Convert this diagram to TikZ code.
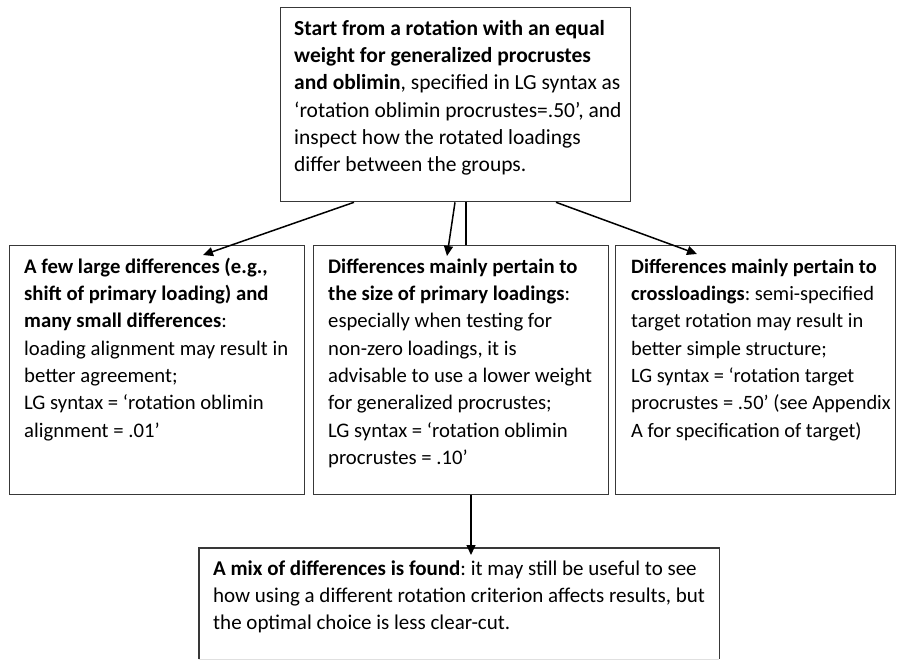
\documentclass[tikz,border=0pt]{standalone}
\usepackage{fontspec}
\setmainfont{Carlito}
\usetikzlibrary{arrows.meta}
\begin{document}
\begin{tikzpicture}[x=1pt,y=-1pt,
  boxstyle/.style={draw=black!78,line width=1.3pt,rectangle,anchor=north west,inner sep=0pt},
  txtstyle/.style={anchor=north west,inner sep=0pt,align=flush left,text width=#1,
    font=\fontsize{20.7}{27.3}\selectfont\frenchspacing},
  arrowstyle/.style={line width=1.5pt,-{Triangle[length=10pt,width=9pt]}},
  linestyle/.style={line width=1.5pt}]
\useasboundingbox[fill=white] (0,0) rectangle (897,660);

\node[boxstyle,minimum width=350pt,minimum height=194pt] (top) at (280,7) {};
\node[boxstyle,minimum width=295pt,minimum height=249pt] (left) at (9,245) {};
\node[boxstyle,minimum width=295pt,minimum height=249pt] (mid) at (313,245) {};
\node[boxstyle,minimum width=280pt,minimum height=249pt] (right) at (615,245) {};
\node[anchor=north west,inner sep=0pt,minimum width=520pt,minimum height=111pt] (bot) at (199,548) {};
\draw[draw=black!78,line width=1.3pt] (bot.south west) -- (bot.north west) -- (bot.north east) -- (bot.south east);
\draw[draw=black!12,line width=1pt] (bot.south west) -- (bot.south east);

\node[txtstyle=400pt,font=\fontsize{21.5}{27.3}\selectfont\frenchspacing] (toptxt) at (294,15.9) {\strut\textbf{Start from a rotation with an equal}\\
\textbf{weight for generalized procrustes}\\
\textbf{and oblimin}, specified in LG syntax as\\
‘rotation oblimin procrustes=.50’, and\\
inspect how the rotated loadings\\
differ between the groups.};

\node[txtstyle=400pt] (lefttxt) at (24,253.9) {\strut\textbf{A few large differences (e.g.,}\\
\textbf{shift of primary loading) and}\\
\textbf{many small differences}:\\
loading alignment may result in\\
better agreement;\\
LG syntax = ‘rotation oblimin\\
alignment = .01’};

\node[txtstyle=400pt] (midtxt) at (328,253.9) {\strut\textbf{Differences mainly pertain to}\\
\textbf{the size of primary loadings}:\\
especially when testing for\\
non-zero loadings, it is\\
advisable to use a lower weight\\
for generalized procrustes;\\
LG syntax = ‘rotation oblimin\\
procrustes = .10’};

\node[txtstyle=400pt,font=\fontsize{20.4}{27.3}\selectfont\frenchspacing] (righttxt) at (631,253.9) {\strut\textbf{Differences mainly pertain to}\\
\textbf{crossloadings}: semi-specified\\
target rotation may result in\\
better simple structure;\\
LG syntax = ‘rotation target\\
procrustes = .50’ (see Appendix\\
A for specification of target)};

\node[txtstyle=600pt,font=\fontsize{21}{27.3}\selectfont\frenchspacing] (bottxt) at (213,555.9) {\strut\textbf{A mix of differences is found}: it may still be useful to see\\
how using a different rotation criterion affects results, but\\
the optimal choice is less clear-cut.};

\draw[arrowstyle] ([xshift=74pt]top.south west) -- ([xshift=194pt,yshift=-10pt]left.north west);
\draw[arrowstyle] ([xshift=175pt]top.south west) -- ([xshift=134pt,yshift=-11pt]mid.north west);
\draw[linestyle] ([xshift=186pt]top.south west) -- ([xshift=153pt]mid.north west);
\draw[arrowstyle] ([xshift=276pt]top.south west) -- ([xshift=82pt,yshift=-9pt]right.north west);
\draw[arrowstyle] ([xshift=158pt]mid.south west) -- ([xshift=272pt,yshift=-7pt]bot.north west);
\end{tikzpicture}
\end{document}
